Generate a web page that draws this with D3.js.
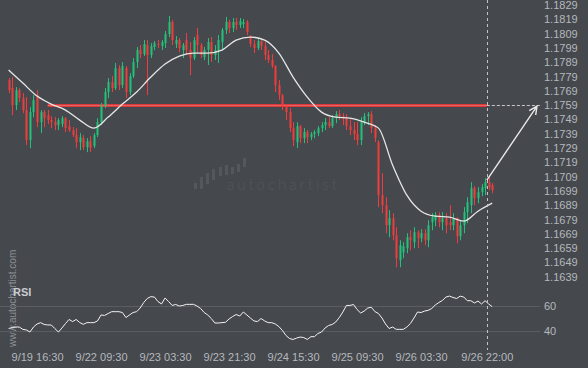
<!DOCTYPE html>
<html>
<head>
<meta charset="utf-8">
<script src="https://cdn.jsdelivr.net/npm/d3@7"></script>
<style>
  html, body { margin: 0; padding: 0; background: #45484d; }
  svg { display: block; font-family: "Liberation Sans", Arial, sans-serif; }
</style>
</head>
<body>
<svg id="chart" width="588" height="368"></svg>
<script>
// hourly EURUSD-style candles
const opens = [1.17765,1.17709,1.17590,1.17695,1.17639,1.17555,1.17345,1.17541,1.17660,1.17471,
  1.17541,1.17520,1.17485,1.17471,1.17450,1.17457,1.17499,1.17443,1.17415,1.17380,
  1.17331,1.17359,1.17296,1.17338,1.17303,1.17380,1.17471,1.17583,1.17681,1.17751,
  1.17709,1.17849,1.17730,1.17849,1.17681,1.17793,1.17891,1.17975,1.17947,1.18010,
  1.17940,1.17996,1.18017,1.18003,1.18024,1.18087,1.18171,1.18017,1.18045,1.17975,
  1.18045,1.17975,1.17919,1.18080,1.18010,1.17926,1.17975,1.18031,1.17940,1.17975,
  1.18031,1.18115,1.18171,1.18129,1.18171,1.18150,1.18157,1.18171,1.18073,1.18017,
  1.17989,1.18038,1.18003,1.17940,1.17905,1.17863,1.17730,1.17660,1.17583,1.17541,
  1.17429,1.17331,1.17443,1.17359,1.17401,1.17366,1.17387,1.17394,1.17429,1.17450,
  1.17471,1.17443,1.17499,1.17527,1.17513,1.17499,1.17443,1.17415,1.17387,1.17345,
  1.17471,1.17513,1.17527,1.17429,1.17331,1.16960,1.16890,1.16750,1.16799,1.16680,
  1.16505,1.16561,1.16589,1.16666,1.16631,1.16701,1.16659,1.16694,1.16645,1.16771,
  1.16785,1.16820,1.16771,1.16799,1.16771,1.16750,1.16799,1.16673,1.16750,1.16841,
  1.16890,1.17009,1.16939,1.16981,1.17009,1.17051,1.17030];
const highs = [1.17779,1.17786,1.17716,1.17709,1.17674,1.17646,1.17576,1.17660,1.17695,1.17555,
  1.17555,1.17555,1.17513,1.17506,1.17499,1.17513,1.17506,1.17485,1.17436,1.17429,
  1.17394,1.17380,1.17359,1.17373,1.17394,1.17499,1.17604,1.17709,1.17779,1.17793,
  1.17884,1.17870,1.17891,1.17863,1.17814,1.17919,1.17996,1.18010,1.18045,1.18045,
  1.18024,1.18038,1.18045,1.18045,1.18108,1.18213,1.18185,1.18073,1.18059,1.18024,
  1.18094,1.18031,1.18066,1.18129,1.18024,1.17996,1.18059,1.18066,1.18010,1.18080,
  1.18129,1.18206,1.18185,1.18199,1.18199,1.18199,1.18192,1.18185,1.18080,1.18045,
  1.18059,1.18059,1.18031,1.17975,1.17947,1.17870,1.17765,1.17667,1.17590,1.17569,
  1.17471,1.17471,1.17450,1.17429,1.17415,1.17401,1.17415,1.17443,1.17471,1.17499,
  1.17506,1.17520,1.17548,1.17555,1.17534,1.17527,1.17492,1.17471,1.17471,1.17506,
  1.17534,1.17541,1.17548,1.17450,1.17345,1.17114,1.16946,1.16855,1.16834,1.16736,
  1.16645,1.16631,1.16694,1.16715,1.16736,1.16715,1.16722,1.16722,1.16785,1.16834,
  1.16841,1.16841,1.16841,1.16834,1.16890,1.16834,1.16806,1.16785,1.16876,1.16946,
  1.17051,1.17023,1.17016,1.17037,1.17079,1.17086,1.17044];
const lows = [1.17674,1.17520,1.17555,1.17611,1.17534,1.17310,1.17289,1.17506,1.17436,1.17394,
  1.17436,1.17457,1.17429,1.17415,1.17415,1.17436,1.17401,1.17401,1.17366,1.17289,
  1.17275,1.17275,1.17261,1.17261,1.17289,1.17366,1.17450,1.17569,1.17639,1.17681,
  1.17695,1.17695,1.17709,1.17639,1.17660,1.17779,1.17849,1.17919,1.17933,1.17660,
  1.17919,1.17975,1.17989,1.17975,1.17989,1.18066,1.18010,1.17989,1.17961,1.17919,
  1.17940,1.17800,1.17905,1.17954,1.17919,1.17905,1.17870,1.17891,1.17905,1.17884,
  1.17975,1.18087,1.18094,1.18101,1.18115,1.18129,1.18129,1.18080,1.17996,1.17954,
  1.17975,1.17975,1.17905,1.17884,1.17849,1.17681,1.17625,1.17555,1.17485,1.17401,
  1.17303,1.17289,1.17324,1.17324,1.17324,1.17345,1.17359,1.17373,1.17401,1.17415,
  1.17429,1.17429,1.17464,1.17485,1.17450,1.17415,1.17380,1.17345,1.17310,1.17310,
  1.17450,1.17450,1.17394,1.17331,1.16876,1.16834,1.16694,1.16666,1.16645,1.16456,
  1.16456,1.16519,1.16554,1.16575,1.16589,1.16589,1.16631,1.16610,1.16596,1.16715,
  1.16743,1.16736,1.16715,1.16694,1.16715,1.16715,1.16624,1.16645,1.16694,1.16764,
  1.16834,1.16890,1.16904,1.16953,1.16960,1.16995,1.16974];
const closes = [1.17695,1.17590,1.17695,1.17639,1.17555,1.17345,1.17541,1.17625,1.17471,1.17541,
  1.17499,1.17485,1.17471,1.17450,1.17485,1.17499,1.17429,1.17415,1.17380,1.17331,
  1.17366,1.17296,1.17338,1.17289,1.17380,1.17471,1.17583,1.17681,1.17751,1.17709,
  1.17849,1.17730,1.17863,1.17681,1.17793,1.17891,1.17975,1.17947,1.18017,1.17940,
  1.18003,1.18024,1.18010,1.18031,1.18087,1.18171,1.18045,1.18045,1.17989,1.18010,
  1.17975,1.17919,1.18045,1.18010,1.17940,1.17975,1.18031,1.17940,1.17975,1.18045,
  1.18115,1.18171,1.18129,1.18171,1.18150,1.18178,1.18171,1.18101,1.18017,1.17989,
  1.18038,1.18003,1.17940,1.17905,1.17863,1.17730,1.17660,1.17583,1.17541,1.17429,
  1.17345,1.17443,1.17359,1.17401,1.17366,1.17387,1.17401,1.17429,1.17450,1.17471,
  1.17443,1.17499,1.17527,1.17513,1.17499,1.17443,1.17415,1.17387,1.17345,1.17471,
  1.17513,1.17527,1.17429,1.17359,1.16960,1.16890,1.16750,1.16799,1.16680,1.16519,
  1.16610,1.16603,1.16666,1.16645,1.16701,1.16659,1.16694,1.16645,1.16750,1.16806,
  1.16820,1.16771,1.16799,1.16750,1.16750,1.16799,1.16673,1.16750,1.16841,1.16911,
  1.17009,1.16939,1.16981,1.17016,1.17051,1.17016,1.16995];

// moving average, one reading every 4th candle
const maValues = [1.17835,1.17744,1.17653,1.17597,1.17555,1.17485,1.17429,1.17506,1.17597,1.17681,
  1.17786,1.17877,1.17933,1.17954,1.17954,1.17975,1.18045,1.18066,1.18045,1.17954,
  1.17786,1.17646,1.17541,1.17506,1.17499,1.17471,1.17429,1.17170,1.16960,1.16848,
  1.16813,1.16806,1.16778,1.16848,1.16904];

const rsiValues = [41.8,42.6,43.0,43.0,41.1,40.6,38.9,43.0,45.5,46.6,
  45.1,44.7,44.7,41.8,38.9,42.2,45.9,49.2,47.5,49.2,
  46.7,45.2,46.6,46.6,46.6,48.0,52.9,52.5,54.1,55.6,
  55.6,55.6,54.9,50.8,52.9,54.9,55.6,58.6,63.1,66.4,
  67.9,67.6,63.9,61.9,66.8,63.9,60.7,61.5,60.2,60.7,
  61.6,61.6,61.6,60.2,58.2,54.9,52.9,50.0,46.3,46.3,
  46.6,46.9,49.6,51.6,53.3,52.0,55.3,52.9,50.4,48.0,
  47.5,50.0,48.0,46.6,46.6,45.5,43.4,40.2,36.1,33.6,
  32.8,34.0,34.8,34.4,32.8,35.1,35.1,37.7,38.9,42.2,
  44.3,45.1,47.1,50.8,55.3,60.7,60.7,61.5,57.4,54.5,
  56.1,58.6,59.2,55.7,54.1,50.4,45.5,41.8,43.0,41.1,
  41.1,41.1,43.0,45.9,50.4,55.3,54.9,56.1,56.7,58.2,
  61.1,63.1,64.8,67.6,68.4,67.2,66.4,68.3,67.6,64.6,
  64.6,62.7,64.3,61.9,64.6,61.9,59.7];

const priceTicks = [1.1639,1.1649,1.1659,1.1669,1.1679,1.1689,1.1699,1.1709,1.1719,1.1729,
  1.1739,1.1749,1.1759,1.1769,1.1779,1.1789,1.1799,1.1809,1.1819,1.1829];
const rsiTicks = [40, 60];
const timeLabels = ['9/19 16:30','9/22 09:30','9/23 03:30','9/23 21:30','9/24 15:30','9/25 09:30','9/26 03:30','9/26 22:00'];
const timeIdx = [8, 26, 44, 62, 80, 98, 116, 134.5];

// pattern: resistance level and forecast
const levelPrice = 1.17587;
const levelFrom = 11;
const nowIdx = 134.5;
const forecastStart = 1.17065;
const forecastEnd = 1.17583;
const forecastIdx = 148.6;
const extendIdx = 150;

const GREEN = '#22c27c', RED = '#f03c3c';

const svg = d3.select('#chart');
const W = 588, H = 368;
svg.append('rect').attr('width', W).attr('height', H).attr('fill', '#45484d');

const x = d3.scaleLinear().domain([0, 136]).range([8.6, 492.2]);
const y = d3.scaleLinear().domain([1.1639, 1.1829]).range([276.7, 5]);
const ry = d3.scaleLinear().domain([40, 60]).range([330.7, 306.3]);

// watermark
const wm = svg.append('g').attr('fill', '#54575c');
const logoBars = [[194,183,189],[200,177,189],[206,173,184],[212,169,180],[219,167,176],[225,165,175],[231,167,174],[237,164,172],[243,158,167]];
logoBars.forEach(b => wm.append('rect').attr('x', b[0]).attr('y', b[1]).attr('width', 3).attr('height', b[2]-b[1]));
wm.append('text').attr('x', 227).attr('y', 190).text('autochartist')
  .style('font-family', 'Lato, "DejaVu Sans", sans-serif').style('font-size', '15px')
  .style('font-weight', 300).style('letter-spacing', '3px');

svg.append('text').attr('transform', 'translate(15.5,347) rotate(-90)')
  .text('www.autochartist.com').attr('fill', '#8d9095').style('font-size', '10px');

// rsi grid
svg.append('g').selectAll('line').data(rsiTicks).enter().append('line')
  .attr('x1', 0).attr('x2', 540).attr('y1', d => Math.round(ry(d)) + 0.5).attr('y2', d => Math.round(ry(d)) + 0.5)
  .attr('stroke', '#5a5d62');

// level line
svg.append('line').attr('x1', x(levelFrom)).attr('x2', x(nowIdx))
  .attr('y1', y(levelPrice)).attr('y2', y(levelPrice))
  .attr('stroke', '#d83a3c').attr('stroke-width', 3);
svg.append('line').attr('x1', x(levelFrom)).attr('x2', x(nowIdx))
  .attr('y1', y(levelPrice)).attr('y2', y(levelPrice))
  .attr('stroke', '#ea6262').attr('stroke-width', 1);
svg.append('line').attr('x1', x(nowIdx)).attr('x2', x(extendIdx))
  .attr('y1', y(levelPrice)).attr('y2', y(levelPrice))
  .attr('stroke', '#c9c9c9').attr('stroke-dasharray', '3,2');

// candles
const idx = d3.range(closes.length);
const cg = svg.append('g');
idx.forEach(i => {
  const col = closes[i] >= opens[i] ? GREEN : RED;
  const cx = Math.round(x(i));
  cg.append('line').attr('x1', cx + 0.5).attr('x2', cx + 0.5)
    .attr('y1', y(highs[i])).attr('y2', y(lows[i])).attr('stroke', col);
  const top = y(Math.max(opens[i], closes[i]));
  const bot = y(Math.min(opens[i], closes[i]));
  cg.append('rect').attr('x', cx - 0.5).attr('y', top).attr('width', 2)
    .attr('height', Math.max(1, bot - top)).attr('fill', col);
});

// moving average
const maIdx = d3.range(0, closes.length, 4);
svg.append('path').datum(maValues)
  .attr('d', d3.line().x((d, i) => x(maIdx[i])).y(d => y(d)).curve(d3.curveMonotoneX))
  .attr('fill', 'none').attr('stroke', '#e6e6e6').attr('stroke-width', 1.3);

// rsi
svg.append('path').datum(rsiValues)
  .attr('d', d3.line().x((d, i) => x(i)).y(d => ry(d)))
  .attr('fill', 'none').attr('stroke', '#f2f2f2').attr('stroke-width', 1);

// now line
const nx = Math.round(x(nowIdx)) + 0.5;
svg.append('line').attr('x1', nx).attr('x2', nx).attr('y1', 0).attr('y2', 350)
  .attr('stroke', '#c4c4c4').attr('stroke-dasharray', '3,3');

// forecast arrow
const ax1 = x(nowIdx), ay1 = y(forecastStart), ax2 = x(forecastIdx), ay2 = y(forecastEnd);
const ang = Math.atan2(ay2 - ay1, ax2 - ax1);
const head = 9, spread = 0.45;
svg.append('path')
  .attr('d', `M${ax1},${ay1}L${ax2},${ay2}` +
    `M${ax2 - head * Math.cos(ang - spread)},${ay2 - head * Math.sin(ang - spread)}L${ax2},${ay2}` +
    `L${ax2 - head * Math.cos(ang + spread)},${ay2 - head * Math.sin(ang + spread)}`)
  .attr('fill', 'none').attr('stroke', '#e8e8e8').attr('stroke-width', 1.4);

// axes
const yAxis = svg.append('g').attr('transform', 'translate(544,0)')
  .call(d3.axisRight(y).tickValues(priceTicks).tickFormat(d3.format('.4f')).tickSize(0).tickPadding(0));
const rAxis = svg.append('g').attr('transform', 'translate(544,0)')
  .call(d3.axisRight(ry).tickValues(rsiTicks).tickSize(0).tickPadding(0));
const xAxis = svg.append('g').attr('transform', 'translate(0,353)')
  .call(d3.axisBottom(x).tickValues(timeIdx).tickFormat((d, i) => timeLabels[i]).tickSize(0).tickPadding(0));
[yAxis, rAxis, xAxis].forEach(a => {
  a.select('.domain').remove();
  a.selectAll('text').attr('fill', '#b5b8bc').style('font-size', '11px').style('font-family', '"Liberation Sans", Arial, sans-serif');
});

svg.append('text').attr('x', 13).attr('y', 296).text('RSI')
  .attr('fill', '#c9ccd0').style('font-size', '11px').style('font-weight', 'bold');
</script>
</body>
</html>
